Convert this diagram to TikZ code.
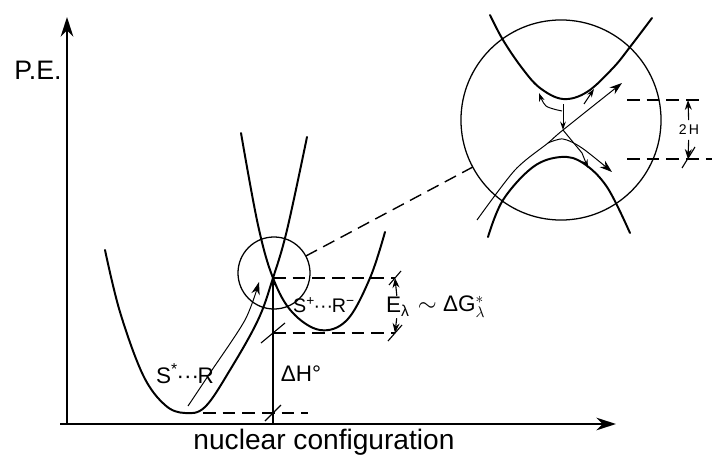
\documentclass[tikz,border=0pt]{standalone}
\usepackage{fontspec}
\setmainfont{Liberation Sans}
\usetikzlibrary{arrows.meta, positioning}

\begin{document}
\begin{tikzpicture}[
      x=0.025cm, y=-0.025cm,
      axis/.style={line width=1.5pt, -{Stealth[length=14pt, width=9pt]}},
      well/.style={line width=1.4pt, line join=round, line cap=round},
      route/.style={line width=0.7pt, -{Stealth[length=9pt, width=6pt]}},
      lens/.style={draw, circle, line width=0.9pt, inner sep=0pt, outer sep=0pt},
      guide/.style={line width=1pt, dash pattern=on 9pt off 5pt},
      dimline/.style={line width=0.8pt, -{Stealth[length=7pt, width=5pt]}},
      lbl/.style={font=\fontsize{16}{18}\selectfont, inner sep=1pt}
    ]
      \useasboundingbox (0,0) rectangle (712,460);

      % axes
      \coordinate (origin) at (67,424);
      \coordinate (ytip) at (67,17);
      \coordinate (xtip) at (616,424);
      \draw[axis] (origin) -- (ytip);
      \draw[axis] (60,424) -- (xtip);
      \node[font=\fontsize{19}{22}\selectfont] (pe) at (38,70) {P.E.};
      \node[font=\fontsize{20}{24}\selectfont] (xlabel) at (324,442) {nuclear configuration};

      % the two wells
      \draw[well] plot[smooth, tension=0.6] coordinates {(105,250) (120,312) (143,375) (165,405) (185,413) (205,407) (230,370) (258,320) (273,278) (287,230) (307,137)};
      \draw[well] plot[smooth, tension=0.6] coordinates {(241,133) (258,225) (273,278) (292,312) (320,330) (347,320) (370,278) (385,232)};
      \draw[route] plot[smooth] coordinates {(188,406) (210,373) (245,320) (259,282)};

      \node[lbl] (sr) at (185,374) {S\textsuperscript{*}\kern-1pt···\kern-1pt R};
      \node[lbl, font=\fontsize{14}{16}\selectfont] (spr) at (324,305) {S\textsuperscript{+}\kern-1pt···\kern-1pt R\textsuperscript{−}};

      % energy levels
      \coordinate (xing) at (273,278);
      \coordinate (eTop) at (395,278);
      \coordinate (eBot) at (395,333);
      \coordinate (hTop) at (273,333);
      \coordinate (hBot) at (273,413);
      \coordinate (gsL) at (203,413);
      \coordinate (gsR) at (308,413);
      \draw[guide] (xing) -- (eTop);
      \draw[guide] (hTop) -- (eBot);
      \draw[guide] (gsL) -- (gsR);
      \draw[line width=1pt, -{Stealth[length=6pt, width=4pt]}] (origin -| xing) -- (xing);
      \draw[line width=0.8pt] (hTop) ++(-12,10) -- ++(24,-20);
      \draw[line width=0.8pt] (hBot) ++(-8,8) -- ++(16,-16);
      \draw[line width=0.8pt] (eTop) ++(-6,7) -- ++(12,-14);
      \draw[line width=0.8pt] (eBot) ++(-7,8) -- ++(14,-16);
      \node[lbl] (dh) at (301,374) {ΔH°};
      \node[lbl] (elam) at (398,307) {E\textsubscript{λ}};
      \node[lbl, right=0.12cm of elam] (dgl) {$\sim$ ΔG$^{*}_{\lambda}$};
      \draw[dimline] (elam) -- (eTop);
      \draw[dimline] (elam) -- (eBot);

      % close-up of the crossing
      \node[lens, minimum size=1.8cm] (closeup) at (274,273) {};
      \node[lens, minimum size=5cm] (detail) at (561,120) {};
      \draw[guide] (closeup) -- (detail);

      \draw[well] plot[smooth, tension=0.6] coordinates {(490,15) (503,40) (522,68) (540,88) (563,99) (587,92) (613,68) (630,47) (652,18)};
      \draw[well] plot[smooth, tension=0.6] coordinates {(488,237) (503,200) (533,167) (561,157) (583,163) (607,187) (630,233)};

      \coordinate (cx) at (563,130);
      \coordinate (umin) at (563,104);
      \draw[route] plot[smooth] coordinates {(477,220) (515,170) (548,143) (563,130) (622,83)};
      \draw[route] plot[smooth] coordinates {(548,143) (563,139) (582,148) (612,172)};
      \draw[route, -{Stealth[length=6pt, width=4pt]}] (umin) -- (cx);
      \draw[route, -{Stealth[length=6pt, width=4pt]}] (cx) -- (582,153) -- (588,168);
      \draw[route, -{Stealth[length=6pt, width=4pt]}] plot[smooth] coordinates {(562,111) (546,106) (539,93)};
      \draw[route, -{Stealth[length=6pt, width=4pt]}] (584,104) -- (594,89);

      % splitting
      \coordinate (hU) at (688,100);
      \coordinate (hL) at (688,159);
      \draw[guide] (627,100) -- (700,100);
      \draw[guide] (627,159) -- (712,159);
      \node[font=\fontsize{10}{12}\selectfont] (split) at (689,130) {2\,H};
      \draw[dimline] (split) -- (hU);
      \draw[dimline] (split) -- (hL);
      \draw[line width=0.8pt] (hL) ++(-6,9) -- ++(13,-21);
    \end{tikzpicture}
\end{document}
